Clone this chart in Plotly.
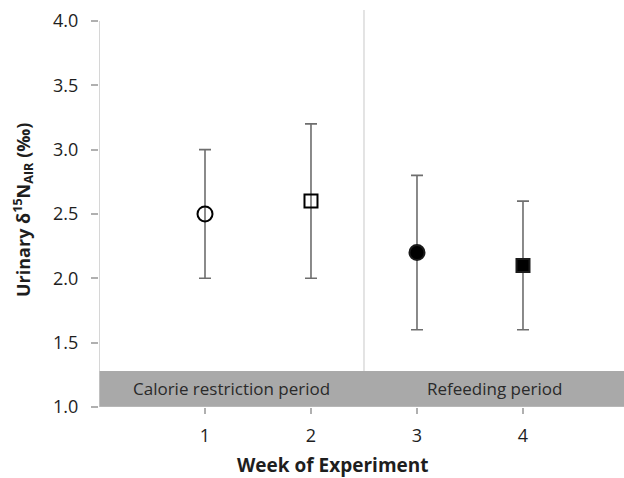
import plotly.graph_objects as go

weeks = [1, 2, 3, 4]
means = [2.5, 2.6, 2.2, 2.1]
err_plus = [0.5, 0.6, 0.6, 0.5]
err_minus = [0.5, 0.6, 0.6, 0.5]
symbols = ["circle-open", "square-open", "circle", "square"]
sizes = [15, 13, 15, 13]
period_labels = ["Calorie restriction period", "Refeeding period"]
period_bounds = [0, 2.5, 4.953]
tick_labels = ["1", "2", "3", "4"]
y_ticks = [1.0, 1.5, 2.0, 2.5, 3.0, 3.5, 4.0]

FONT = "Open Sans, DejaVu Sans, sans-serif"
TEXT = "#1e1e1e"
band_top = 1.28
y_range = [1.0, 4.085]

fig = go.Figure()

# error bars + markers, one trace per week
for w, m, ep, em, sym, sz in zip(weeks, means, err_plus, err_minus, symbols, sizes):
    fig.add_trace(go.Scatter(
        x=[w], y=[m], mode="markers",
        marker=dict(symbol=sym, size=sz, color="#000000",
                    line=dict(color="#1a1a1a", width=2)),
        error_y=dict(type="data", symmetric=False, array=[ep], arrayminus=[em],
                     color="#6e6e6e", thickness=1.6, width=6),
        showlegend=False,
    ))

span = y_range[1] - y_range[0]
shapes = [
    # grey period band along the bottom
    dict(type="rect", xref="x", yref="y", x0=period_bounds[0], x1=period_bounds[-1],
         y0=1.0, y1=band_top, fillcolor="#a9a9a9", line=dict(width=0), layer="below"),
    # bottom edge of the band
    dict(type="line", xref="x", yref="y", x0=period_bounds[0], x1=period_bounds[-1],
         y0=1.0, y1=1.0, line=dict(color="#bdbdbd", width=1.5)),
    # divider between periods
    dict(type="line", xref="x", yref="paper", x0=period_bounds[1], x1=period_bounds[1],
         y0=(band_top - y_range[0]) / span, y1=1.0, line=dict(color="#c8c8c8", width=1)),
    # left axis line
    dict(type="line", xref="x", yref="y", x0=0, x1=0, y0=0.955, y1=4.0,
         line=dict(color="#c8c8c8", width=1.5)),
]

annotations = []
for i, lab in enumerate(period_labels):
    annotations.append(dict(
        x=(period_bounds[i] + period_bounds[i + 1]) / 2, y=(1.0 + band_top) / 2,
        xref="x", yref="y", text=lab, showarrow=False,
        font=dict(family=FONT, size=17, color="#2a2a2a")))

W, H = 624, 478
L, R, T, B = 99, 0, 10, 71
pw, ph = W - L - R, H - T - B

# axis titles placed in pixel space
titles = [
    dict(px=333, py=465, text="<b>Week of Experiment</b>", angle=0, size=19),
    dict(px=23, py=210, text="<b>Urinary δ<sup>15</sup>N<sub>AIR</sub> (‰)</b>", angle=-90, size=18),
]
for t in titles:
    annotations.append(dict(
        x=(t["px"] - L) / pw, y=(H - B - t["py"]) / ph, xref="paper", yref="paper",
        xanchor="center", yanchor="middle", text=t["text"], textangle=t["angle"],
        showarrow=False, font=dict(family=FONT, size=t["size"], color=TEXT)))

fig.update_layout(
    width=W, height=H,
    margin=dict(l=L, r=R, t=T, b=B),
    plot_bgcolor="white", paper_bgcolor="white",
    shapes=shapes, annotations=annotations,
    xaxis=dict(range=[period_bounds[0], period_bounds[-1]], tickvals=weeks, ticktext=tick_labels,
               showgrid=False, zeroline=False, showline=False,
               ticks="outside", ticklen=6, tickcolor="#b0b0b0", tickwidth=1.5,
               ticklabelstandoff=6,
               tickfont=dict(family=FONT, size=18, color=TEXT)),
    yaxis=dict(range=y_range, tickvals=y_ticks,
               ticktext=[f"{v:.1f}" for v in y_ticks],
               showgrid=False, zeroline=False, showline=False,
               ticks="outside", ticklen=7, tickcolor="#b0b0b0", tickwidth=1.5,
               ticklabelstandoff=9,
               tickfont=dict(family=FONT, size=18, color=TEXT)),
)

fig.write_html("out.html")
